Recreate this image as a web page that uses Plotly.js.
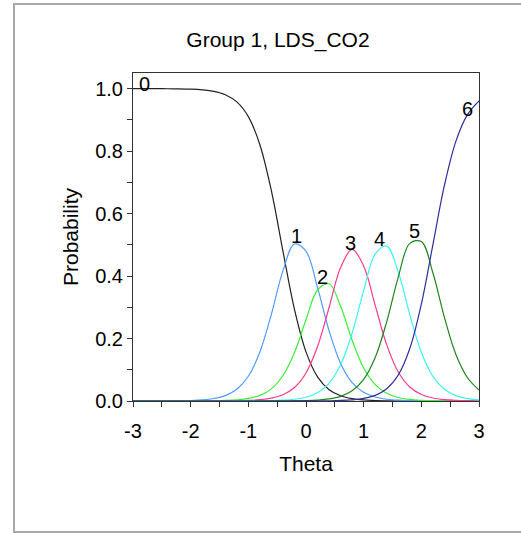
<!DOCTYPE html>
<html>
<head>
<meta charset="utf-8">
<script src="https://cdn.plot.ly/plotly-3.0.1.min.js"></script>
<style>
  html, body { margin: 0; padding: 0; background: #ffffff; overflow: hidden; }
  #chart { width: 521px; height: 533px; }
  #frame { position: absolute; left: 13px; top: 3px; width: 620px; height: 526px;
           border: 2px solid #a8a8a8; border-right: none; pointer-events: none; }
</style>
</head>
<body>
<div id="chart"></div>
<div id="frame"></div>
<script>
// Theta grid
var theta = [-3.0, -2.8, -2.6, -2.4, -2.2, -2.0, -1.8, -1.6, -1.4, -1.2, -1.0,
             -0.8, -0.6, -0.4, -0.2, 0.0, 0.2, 0.4, 0.6, 0.8, 1.0,
             1.2, 1.4, 1.6, 1.8, 2.0, 2.2, 2.4, 2.6, 2.8, 3.0];

// Category probability curves
var cat0 = [1.0000, 0.9999, 0.9998, 0.9996, 0.9992, 0.9982, 0.9960, 0.9912, 0.9806, 0.9577, 0.9105,
            0.8205, 0.6726, 0.4800, 0.2932, 0.1571, 0.0772, 0.0362, 0.0166, 0.0075, 0.0034,
            0.0015, 0.0007, 0.0003, 0.0001, 0.0001, 0.0000, 0.0000, 0.0000, 0.0000, 0.0000];
var cat1 = [0.0000, 0.0001, 0.0002, 0.0003, 0.0007, 0.0016, 0.0036, 0.0079, 0.0173, 0.0376, 0.0792,
            0.1568, 0.2781, 0.4166, 0.5025, 0.4793, 0.3631, 0.2250, 0.1204, 0.0591, 0.0277,
            0.0127, 0.0057, 0.0026, 0.0012, 0.0005, 0.0002, 0.0001, 0.0000, 0.0000, 0.0000];
var cat2 = [0.0000, 0.0000, 0.0000, 0.0000, 0.0001, 0.0002, 0.0003, 0.0008, 0.0017, 0.0037, 0.0082,
            0.0181, 0.0389, 0.0807, 0.1550, 0.2602, 0.3554, 0.3752, 0.3033, 0.1946, 0.1059,
            0.0524, 0.0247, 0.0113, 0.0051, 0.0023, 0.0010, 0.0005, 0.0002, 0.0001, 0.0000];
var cat3 = [0.0000, 0.0000, 0.0000, 0.0000, 0.0000, 0.0000, 0.0001, 0.0002, 0.0004, 0.0008, 0.0019,
            0.0041, 0.0091, 0.0200, 0.0431, 0.0898, 0.1744, 0.2994, 0.4273, 0.4853, 0.4325,
            0.3063, 0.1797, 0.0930, 0.0448, 0.0208, 0.0095, 0.0043, 0.0019, 0.0009, 0.0004];
var cat4 = [0.0000, 0.0000, 0.0000, 0.0000, 0.0000, 0.0000, 0.0000, 0.0000, 0.0000, 0.0001, 0.0002,
            0.0005, 0.0011, 0.0025, 0.0055, 0.0121, 0.0265, 0.0566, 0.1158, 0.2172, 0.3532,
            0.4700, 0.4960, 0.4128, 0.2762, 0.1558, 0.0787, 0.0374, 0.0172, 0.0078, 0.0035];
var cat5 = [0.0000, 0.0000, 0.0000, 0.0000, 0.0000, 0.0000, 0.0000, 0.0000, 0.0000, 0.0000, 0.0000,
            0.0001, 0.0001, 0.0003, 0.0006, 0.0014, 0.0031, 0.0068, 0.0150, 0.0326, 0.0691,
            0.1391, 0.2540, 0.3968, 0.5046, 0.5105, 0.4105, 0.2677, 0.1486, 0.0744, 0.0352];
var cat6 = [0.0000, 0.0000, 0.0000, 0.0000, 0.0000, 0.0000, 0.0000, 0.0000, 0.0000, 0.0000, 0.0000,
            0.0000, 0.0000, 0.0000, 0.0001, 0.0002, 0.0003, 0.0008, 0.0017, 0.0037, 0.0082,
            0.0180, 0.0392, 0.0832, 0.1680, 0.3100, 0.5000, 0.6900, 0.8320, 0.9168, 0.9608];

var categoryNames = ['0', '1', '2', '3', '4', '5', '6'];
var seriesList = [cat0, cat1, cat2, cat3, cat4, cat5, cat6];

// Tick values and labels
var xTickVals = [-3, -2, -1, 0, 1, 2, 3];
var xTickText = ['-3', '-2', '-1', '0', '1', '2', '3'];
var yTickVals = [0, 0.2, 0.4, 0.6, 0.8, 1.0];
var yTickText = ['0.0', '0.2', '0.4', '0.6', '0.8', '1.0'];

// Curve-label anchor points (theta, probability)
var labelTheta = [-2.80, -0.16, 0.28, 0.78, 1.28, 1.88, 2.80];
var labelProb  = [1.016, 0.528, 0.397, 0.506, 0.518, 0.543, 0.935];

var colors = ['#222222', '#4f9cff', '#3cee3c', '#ff3a8c', '#3cf4f4', '#1f861f', '#2e2e9e'];
var FONT = 'Arial, "Liberation Sans", sans-serif';

var traces = seriesList.map(function (ys, i) {
  return {
    x: theta, y: ys, type: 'scatter', mode: 'lines', name: categoryNames[i],
    line: { color: colors[i], width: 1.2, shape: 'spline', smoothing: 1 },
    hoverinfo: 'x+y+name'
  };
});

var annotations = categoryNames.map(function (t, i) {
  return {
    x: labelTheta[i], y: labelProb[i], xref: 'x', yref: 'y', text: t,
    showarrow: false, xanchor: 'center', yanchor: 'middle',
    font: { family: FONT, size: 20, color: '#000000' }
  };
});

var axisCommon = {
  showgrid: false, zeroline: false, showline: true, mirror: true,
  linecolor: '#333333', linewidth: 1,
  ticks: 'outside', ticklen: 5, tickwidth: 1, tickcolor: '#333333',
  tickfont: { family: FONT, size: 20, color: '#000000' },
  fixedrange: true
};

var layout = {
  width: 521, height: 533,
  margin: { l: 133, r: 42, t: 73, b: 132, pad: 0 },
  paper_bgcolor: '#ffffff', plot_bgcolor: '#ffffff',
  showlegend: false,
  title: {
    text: 'Group 1, LDS_CO2',
    font: { family: FONT, size: 21, color: '#000000' },
    x: 278 / 521, xanchor: 'center', xref: 'container',
    y: 1 - 40 / 533, yanchor: 'middle', yref: 'container'
  },
  xaxis: Object.assign({}, axisCommon, {
    range: [-3, 3], tickmode: 'array', tickvals: xTickVals, ticktext: xTickText,
    ticklabelstandoff: 7,
    minor: { dtick: 0.5, tick0: 0, ticks: 'outside', ticklen: 5, tickcolor: '#333333', showgrid: false },
    title: { text: 'Theta', font: { family: FONT, size: 21, color: '#000000' }, standoff: 15 }
  }),
  yaxis: Object.assign({}, axisCommon, {
    range: [0, 1.05], tickmode: 'array', tickvals: yTickVals, ticktext: yTickText,
    ticklabelstandoff: 0,
    minor: { dtick: 0.1, tick0: 0, ticks: 'outside', ticklen: 5, tickcolor: '#333333', showgrid: false },
    title: { text: 'Probability', font: { family: FONT, size: 21, color: '#000000' }, standoff: 10 }
  }),
  annotations: annotations
};

Plotly.newPlot('chart', traces, layout, { displayModeBar: false, staticPlot: false });
</script>
</body>
</html>
